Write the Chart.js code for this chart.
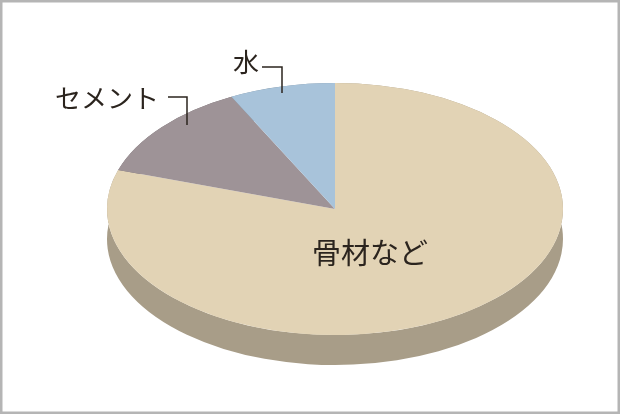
<!DOCTYPE html>
<html>
<head>
<meta charset="utf-8">
<script src="https://cdn.jsdelivr.net/npm/chart.js@4"></script>
<style>
  html, body { margin: 0; padding: 0; background: #ffffff; }
  canvas { display: block; }
</style>
</head>
<body>
<canvas id="pie" width="620" height="414"></canvas>
<script>
// chart data (concrete mix, share in %)
const categories = ['骨材など', 'セメント', '水'];
const shares = [80, 12.5, 7.5];
const topColors = ['#e2d3b5', '#9e9397', '#a8c3da'];
const sideColors = ['#a89d88', '#776e72', '#7f93a4'];

// label placement for the outside labels
const outsideLabels = [
  { text: 'セメント', x: 107, y: 98, line: [[168, 97], [187, 97], [187, 125]] },
  { text: '水', x: 246, y: 62, line: [[262, 67], [282, 67], [282, 93]] }
];

// 3D look: tilt the pie and add a side wall
const tilt = {
  cx: 335,
  cy: 209,
  squash: 126 / 228,
  depth: 30
};

function tiltTransform(ctx, el) {
  ctx.translate(tilt.cx, tilt.cy);
  ctx.scale(1, tilt.squash);
  ctx.translate(-el.x, -el.y);
}

const pie3d = {
  id: 'pie3d',
  beforeDatasetsDraw(chart) {
    const ctx = chart.ctx;
    const arcs = chart.getDatasetMeta(0).data;

    // side wall of each slice, between the top rim and the bottom rim
    arcs.forEach((arc, i) => {
      const rx = arc.outerRadius;
      const ry = arc.outerRadius * tilt.squash;
      ctx.save();
      ctx.beginPath();
      ctx.ellipse(tilt.cx, tilt.cy, rx, ry, 0, arc.startAngle, arc.endAngle);
      ctx.ellipse(tilt.cx, tilt.cy + tilt.depth, rx, ry, 0, arc.endAngle, arc.startAngle, true);
      ctx.closePath();
      ctx.fillStyle = sideColors[i];
      ctx.fill();
      ctx.restore();
    });

    ctx.save();
    tiltTransform(ctx, arcs[0]);
  },
  afterDatasetsDraw(chart) {
    chart.ctx.restore();
  },
  afterDraw(chart) {
    const ctx = chart.ctx;
    ctx.save();
    ctx.fillStyle = '#2b241e';
    ctx.strokeStyle = '#2b241e';
    ctx.textAlign = 'center';
    ctx.textBaseline = 'middle';

    // label inside the big slice
    ctx.font = '400 29px "Noto Sans CJK JP"';
    ctx.fillText(categories[0], 370, 253);

    ctx.font = '400 26px "Noto Sans CJK JP"';
    ctx.lineWidth = 1.5;
    outsideLabels.forEach(lb => {
      ctx.fillText(lb.text, lb.x, lb.y);
      ctx.beginPath();
      ctx.moveTo(lb.line[0][0], lb.line[0][1]);
      lb.line.slice(1).forEach(p => ctx.lineTo(p[0], p[1]));
      ctx.stroke();
    });

    // frame
    ctx.strokeStyle = '#b5b5b5';
    ctx.lineWidth = 2.5;
    ctx.strokeRect(1.25, 1.25, chart.width - 2.5, chart.height - 2.5);
    ctx.restore();
  }
};

new Chart(document.getElementById('pie'), {
  type: 'pie',
  data: {
    labels: categories,
    datasets: [{
      data: shares,
      backgroundColor: topColors,
      borderWidth: 0,
      radius: 228,
      clip: false
    }]
  },
  options: {
    responsive: false,
    animation: false,
    events: [],
    plugins: {
      legend: { display: false },
      tooltip: { enabled: false }
    }
  },
  plugins: [pie3d]
});
</script>
</body>
</html>
